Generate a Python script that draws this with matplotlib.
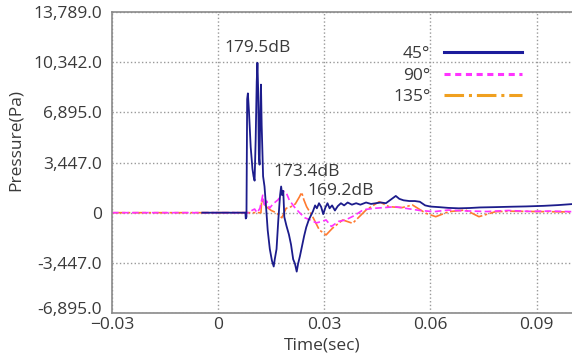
import matplotlib.pyplot as plt
from matplotlib.lines import Line2D
from matplotlib.transforms import ScaledTranslation

plt.rcParams['font.family'] = ['Open Sans', 'DejaVu Sans']

# 45 deg (navy)
t45 = [-0.0045, 0.0077, 0.0078, 0.0080, 0.0082, 0.0084, 0.0087, 0.0092, 0.0097, 0.0100,
       0.0103, 0.0106, 0.0109, 0.0111, 0.0113, 0.0115, 0.0117, 0.0119, 0.0121, 0.0123,
       0.0127, 0.0131, 0.0136, 0.0140, 0.0146, 0.0152, 0.0157, 0.0160, 0.0165, 0.0170,
       0.0175, 0.0178, 0.0181, 0.0184, 0.0187, 0.0193, 0.0200, 0.0206, 0.0212, 0.0217,
       0.0222, 0.0226, 0.0231, 0.0237, 0.0243, 0.0249, 0.0256, 0.0262, 0.0268, 0.0274,
       0.0279, 0.0285, 0.0291, 0.0297, 0.0303, 0.0309, 0.0315, 0.0322, 0.0330, 0.0338,
       0.0347, 0.0356, 0.0366, 0.0378, 0.0390, 0.0402, 0.0418, 0.0432, 0.0446, 0.0460,
       0.0474, 0.0488, 0.0502, 0.0512, 0.0524, 0.0540, 0.0556, 0.0570, 0.0585, 0.0600,
       0.0625, 0.0650, 0.0680, 0.0710, 0.0740, 0.0780, 0.0830, 0.0870, 0.0920, 0.0960, 0.1000]
p45 = [0, 0, -400, -300, 7800, 8200, 7000, 4500, 3000, 2500,
       2200, 5000, 9000, 10300, 8500, 4000, 3300, 7000, 8800, 6000,
       2500, 1800, 200, -1200, -2500, -3300, -3700, -3200, -2500, -500,
       1200, 1800, 1200, 1500, -300, -900, -1500, -2200, -3200, -3500,
       -4050, -3500, -3000, -2300, -1600, -1000, -500, -200, 100, 500,
       300, 650, 400, -100, 350, 650, 300, 500, 150, 450,
       650, 500, 700, 550, 650, 550, 700, 600, 650, 700,
       650, 900, 1150, 950, 850, 800, 800, 750, 500, 420,
       380, 330, 300, 320, 360, 380, 410, 430, 470, 520, 590]

# 90 deg (magenta)
t90 = [-0.03, 0.0085, 0.0095, 0.0103, 0.0110, 0.0118, 0.0126, 0.0131, 0.0137, 0.0145,
       0.0155, 0.0170, 0.0182, 0.0192, 0.0201, 0.0215, 0.0230, 0.0245, 0.0260, 0.0278,
       0.0290, 0.0305, 0.0320, 0.0340, 0.0360, 0.0385, 0.0410, 0.0440, 0.0470, 0.0500,
       0.0530, 0.0570, 0.0610, 0.0650, 0.0700, 0.0760, 0.0820, 0.0880, 0.0940, 0.1000]
p90 = [0, 0, 150, 250, 0, 300, 1200, 400, 800, 300,
       600, 900, 1500, 1400, 870, 400, 0, -350, -500, -700,
       -620, -500, -950, -600, -500, -200, 200, 300, 350, 410,
       300, 150, 70, 180, 120, 80, 150, 90, 110, 70]

# 135 deg (orange)
t135 = [-0.03, 0.0121, 0.0123, 0.0127, 0.0136, 0.0150, 0.0164, 0.0180, 0.0192, 0.0205,
        0.0218, 0.0230, 0.0236, 0.0242, 0.0250, 0.0267, 0.0286, 0.0305, 0.0323, 0.0352,
        0.0380, 0.0399, 0.0418, 0.0455, 0.0483, 0.0520, 0.0549, 0.0587, 0.0615, 0.0652,
        0.0699, 0.0737, 0.0784, 0.0830, 0.0925, 0.1000]
p135 = [0, 0, 870, 700, 410, 150, 0, -350, 300, 400,
        600, 1100, 1400, 900, 410, -275, -1190, -1530, -1070, -500,
        -730, -275, 185, 755, 410, 350, 530, -40, -275, 70,
        185, -275, 70, 100, 70, 50]

yticks = [13789, 10342, 6895, 3447, 0, -3447, -6895]
ylabels = ['13,789.0', '10,342.0', '6,895.0', '3,447.0', '0', '-3,447.0', '-6,895.0']
xticks = [-0.03, 0, 0.03, 0.06, 0.09]
xlabels = ['\u22120.03', '0', '0.03', '0.06', '0.09']

txt = '#3a3a3a'
fig = plt.figure(figsize=(5.72, 3.59), dpi=100)
ax = fig.add_axes([0.1958, 0.1281, 0.8042, 0.8384])

ax.plot(t135, p135, color='#ff7a30', lw=1.2, ls=(0, (8, 1.5, 1.5, 1.5)))
ax.plot(t90, p90, color='#ff33ff', lw=1.2, ls=(0, (4, 2)))
ax.plot(t45, p45, color='#1c1c8c', lw=1.3)

ax.set_xlim(-0.03, 0.1)
ax.set_ylim(-6895, 13789)
ax.set_xticks(xticks)
ax.set_xticklabels(xlabels)
ax.set_yticks(yticks)
ax.set_yticklabels(ylabels)
ax.tick_params(length=0, labelsize=12.5, colors=txt)
ax.tick_params(axis='y', pad=7)
ax.tick_params(axis='x', pad=3)
ax.grid(True, ls=':', color='#999999', lw=1)

# bottom y label sits a little higher so it clears the x tick label
lowest = ax.get_yticklabels()[-1]
lowest.set_transform(lowest.get_transform() + ScaledTranslation(0, 0.05, fig.dpi_scale_trans))

for s in ['left', 'bottom', 'top']:
    ax.spines[s].set_color('#8a8a8a')
    ax.spines[s].set_linewidth(1.2)
ax.spines['right'].set_visible(False)

ax.set_xlabel('Time(sec)', fontsize=12.5, color=txt)
ax.xaxis.set_label_coords(0.4565, -0.083)
ax.set_ylabel('Pressure(Pa)', fontsize=12.5, color=txt)
ax.yaxis.set_label_coords(-0.191, 0.575)

ax.text(0.0112, 11300, '179.5dB', fontsize=12.5, color=txt, ha='center', va='center')
ax.text(0.0249, 2800, '173.4dB', fontsize=12.5, color=txt, ha='center', va='center')
ax.text(0.0347, 1500, '169.2dB', fontsize=12.5, color=txt, ha='center', va='center')

handles = [Line2D([], [], color='#1c1c9c', lw=2.2),
           Line2D([], [], color='#ff33ff', lw=2.2, ls=(0, (2, 1.5))),
           Line2D([], [], color='#f0a020', lw=2.2, ls='-.')]
ax.legend(handles, ['45°', '90°', '135°'], loc='upper right', bbox_to_anchor=(0.911, 0.915),
          frameon=False, markerfirst=False, handlelength=4.5, handletextpad=0.8,
          labelspacing=0.3, fontsize=12.5, labelcolor=txt, borderpad=0)

fig.savefig('out.png')
